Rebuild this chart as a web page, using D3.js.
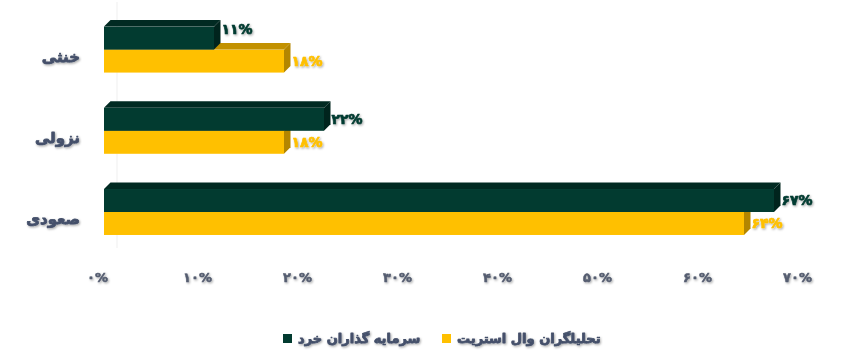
<!DOCTYPE html>
<html>
<head>
<meta charset="utf-8">
<script src="https://cdn.jsdelivr.net/npm/d3@7"></script>
<style>
  body { margin: 0; background: #fff; }
  svg { display: block; font-family: "DejaVu Sans", sans-serif; }
</style>
</head>
<body>
<div id="chart"></div>
<script>
// chart data
const categories = ["خنثی", "نزولی", "صعودی"];
const seriesNames = ["سرمایه گذاران خرد", "تحلیلگران وال استریت"];
const retailValues = [11, 22, 67];
const wallStreetValues = [18, 18, 64];
const xTicks = [0, 10, 20, 30, 40, 50, 60, 70];

const width = 848, height = 360;
const depth = 6.5;

const faDigits = s => String(s).replace(/\d/g, d => "۰۱۲۳۴۵۶۷۸۹"[d]);

const colors = {
    retail: { front: "#023b30", top: "#012a22", side: "#00241d", label: "#023b30" },
    wall: { front: "#ffc000", top: "#c29100", side: "#b38600", label: "#ffc000" }
};

const svg = d3.select("#chart").append("svg")
    .attr("width", width)
    .attr("height", height);

const defs = svg.append("defs");
defs.append("filter").attr("id", "shadow")
    .attr("x", "-20%").attr("y", "-20%").attr("width", "140%").attr("height", "160%")
    .append("feDropShadow")
    .attr("dx", 1).attr("dy", 1.2).attr("stdDeviation", 0.9)
    .attr("flood-color", "#000").attr("flood-opacity", 0.35);

// fake a heavier weight, the Arabic fallback has no real bold
const heavy = (sel, color, w) => sel
    .attr("fill", color)
    .attr("stroke", color)
    .attr("stroke-width", w)
    .attr("stroke-linejoin", "round")
    .attr("paint-order", "stroke");

const x = d3.scaleLinear().domain([0, 70]).range([104, 804]);
const y = d3.scaleBand().domain(categories).range([9, 252.6]).paddingInner(0.434).paddingOuter(0.217);
const ySub = d3.scaleBand().domain(["retail", "wall"]).range([0, y.bandwidth()]);

// faint back wall line
svg.append("line")
    .attr("x1", x(0) + 13).attr("x2", x(0) + 13)
    .attr("y1", 2).attr("y2", 248)
    .attr("stroke", "#efefef").attr("stroke-width", 1);

const rows = categories.map((c, i) => ({ cat: c, retail: retailValues[i], wall: wallStreetValues[i] }));

const g = svg.append("g");

function drawBar(sel, key, d) {
    const c = colors[key];
    const x0 = x(0), x1 = x(d[key]);
    const top = y(d.cat) + ySub(key);
    const bottom = top + ySub.bandwidth();
    sel.append("rect")
        .attr("x", x0).attr("y", top)
        .attr("width", x1 - x0).attr("height", bottom - top)
        .attr("fill", c.front);
    sel.append("path")
        .attr("d", `M${x0},${top}L${x0 + depth},${top - depth}L${x1 + depth},${top - depth}L${x1},${top}Z`)
        .attr("fill", c.top);
    sel.append("path")
        .attr("d", `M${x1},${top}L${x1 + depth},${top - depth}L${x1 + depth},${bottom - depth}L${x1},${bottom}Z`)
        .attr("fill", c.side);
}

rows.forEach(d => {
    const grp = g.append("g");
    drawBar(grp, "wall", d);
    drawBar(grp, "retail", d);
});

// value labels
const labels = svg.append("g")
    .attr("font-weight", "bold")
    .attr("font-size", 14)
    .attr("filter", "url(#shadow)");

rows.forEach(d => {
    ["retail", "wall"].forEach(key => {
        let cy = y(d.cat) + ySub(key) + ySub.bandwidth() / 2;
        if (key === "retail" && d.wall > d.retail) cy -= 9;
        labels.append("text")
            .attr("x", x(d[key]) + depth + 1)
            .attr("y", cy)
            .attr("dy", "0.35em")
            .call(heavy, colors[key].label, 0.7)
            .text(faDigits(d[key]) + "%");
    });
});

// category labels
svg.append("g")
    .selectAll("text")
    .data(categories)
    .join("text")
    .attr("x", 80)
    .attr("y", d => y(d) + y.bandwidth() / 2 + 7)
    .attr("dy", "0.35em")
    .attr("text-anchor", "end")
    .attr("font-size", 15)
    .attr("font-weight", "bold")
    .call(heavy, "#44506a", 0.8)
    .attr("filter", "url(#shadow)")
    .text(d => d);

// x axis labels
const xAxis = d3.axisBottom(x)
    .tickValues(xTicks)
    .tickSize(0)
    .tickPadding(0)
    .tickFormat(d => faDigits(d) + "%");

const axisG = svg.append("g")
    .attr("transform", "translate(-7,277)")
    .call(xAxis);
axisG.select(".domain").remove();
axisG.selectAll("text")
    .attr("y", 0)
    .attr("dy", "0.35em")
    .attr("font-family", "DejaVu Sans, sans-serif")
    .attr("font-size", 13)
    .attr("font-weight", "bold")
    .call(heavy, "#555d70", 0.5)
    .attr("filter", "url(#shadow)");

// legend
const legendItems = [
    { name: seriesNames[0], color: colors.retail.front, x: 283 },
    { name: seriesNames[1], color: colors.wall.front, x: 442 }
];
const legend = svg.append("g");
legendItems.forEach(it => {
    legend.append("rect")
        .attr("x", it.x).attr("y", 334)
        .attr("width", 9).attr("height", 9)
        .attr("fill", it.color);
    legend.append("text")
        .attr("x", it.x + 15)
        .attr("y", 338.5)
        .attr("dy", "0.35em")
        .attr("font-size", 13)
        .attr("font-weight", "bold")
        .call(heavy, "#44506a", 0.8)
        .attr("filter", "url(#shadow)")
        .text(it.name);
});
</script>
</body>
</html>
